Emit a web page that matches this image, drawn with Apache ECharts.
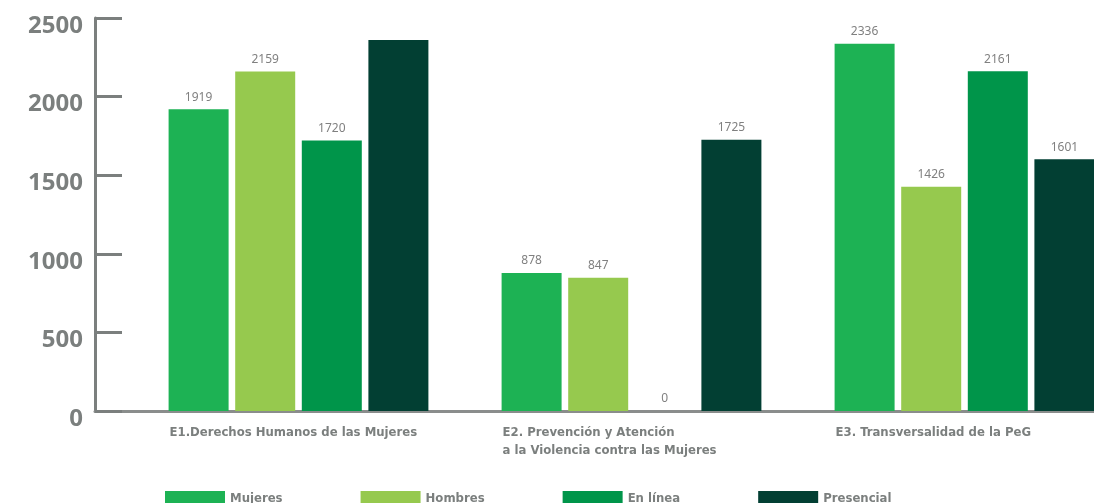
<!DOCTYPE html>
<html>
<head>
<meta charset="utf-8">
<script src="https://cdn.jsdelivr.net/npm/echarts@6/dist/echarts.min.js"></script>
<style>
  html, body { margin: 0; padding: 0; background: #fff; }
  #main { width: 1094px; height: 503px; }
</style>
</head>
<body>
<div id="main"></div>
<script>
// datos
var categorias = ['E1.Derechos Humanos de las Mujeres', 'E2. Prevención y Atención\na la Violencia contra las Mujeres', 'E3. Transversalidad de la PeG'];
var series = ['Mujeres', 'Hombres', 'En línea', 'Presencial'];
var mujeres = [1919, 878, 2336];
var hombres = [2159, 847, 1426];
var enLinea = [1720, 0, 2161];
var presencial = [2360, 1725, 1601];
var ticksY = [0, 500, 1000, 1500, 2000, 2500];

var colores = ['#1db254', '#96c94e', '#00954a', '#023f33'];
var gris = '#7b7f7e';
var fuenteEstrecha = "'DejaVu Sans Condensed', 'Noto Sans'";
var valores = [mujeres, hombres, enLinea, presencial];
// la barra E1 Presencial no lleva etiqueta en el original
var sinEtiqueta = [[3, 0]];

var myChart = echarts.init(document.getElementById('main'));

var seriesBar = series.map(function (nombre, s) {
    return {
        name: nombre,
        type: 'bar',
        xAxisIndex: 0,
        yAxisIndex: 0,
        barWidth: 60,
        barGap: '11%',
        itemStyle: { color: colores[s] },
        label: {
            show: true,
            position: 'top',
            distance: 6,
            color: '#808080',
            fontFamily: 'Noto Sans',
            fontSize: 12
        },
        data: valores[s].map(function (v, c) {
            var oculto = sinEtiqueta.some(function (p) { return p[0] === s && p[1] === c; });
            return oculto ? { value: v, label: { show: false } } : v;
        }),
        z: 3
    };
});

myChart.setOption({
    animation: false,
    legend: {
        data: series,
        left: 160,
        top: 486,
        icon: 'rect',
        itemWidth: 60,
        itemHeight: 15,
        itemGap: 78,
        textStyle: {
            color: gris,
            fontFamily: fuenteEstrecha,
            fontWeight: 'bold',
            fontSize: 13
        }
    },
    grid: [
        { left: 132, width: 999, top: 18, bottom: 92, outerBoundsMode: 'none' },
        { left: 95, right: 0, top: 18, bottom: 92, outerBoundsMode: 'none' }
    ],
    xAxis: [{
        type: 'category',
        gridIndex: 0,
        data: categorias,
        axisLine: { show: false },
        axisTick: { show: false },
        axisLabel: {
            interval: 0,
            hideOverlap: false,
            margin: 13,
            formatter: function (v) {
                return v.split('\n').map(function (l) { return '{a|' + l + '}'; }).join('\n');
            },
            rich: {
                a: {
                    width: 258,
                    align: 'left',
                    color: gris,
                    fontFamily: fuenteEstrecha,
                    fontWeight: 'bold',
                    fontSize: 13,
                    lineHeight: 18
                }
            }
        }
    }, {
        type: 'value',
        gridIndex: 1,
        min: 0,
        max: 1,
        axisLine: { show: true, lineStyle: { color: '#8a8d8c', width: 3 } },
        axisTick: { show: false },
        axisLabel: { show: false },
        splitLine: { show: false }
    }],
    yAxis: [{
        type: 'value',
        gridIndex: 0,
        min: 0,
        max: 2500,
        show: false
    }, {
        type: 'value',
        gridIndex: 1,
        min: 0,
        max: 2500,
        interval: 500,
        axisLine: { show: true, lineStyle: { color: gris, width: 3 } },
        axisTick: { show: true, inside: true, length: 27, lineStyle: { color: gris, width: 3 } },
        splitLine: { show: false },
        axisLabel: {
            margin: 12,
            color: gris,
            fontFamily: 'Noto Sans',
            fontWeight: 'bold',
            fontSize: 24,
            verticalAlign: 'top',
            lineHeight: 16,
            formatter: function (v) { return ticksY.indexOf(v) >= 0 ? String(v) : ''; }
        }
    }],
    series: seriesBar
});
</script>
</body>
</html>
